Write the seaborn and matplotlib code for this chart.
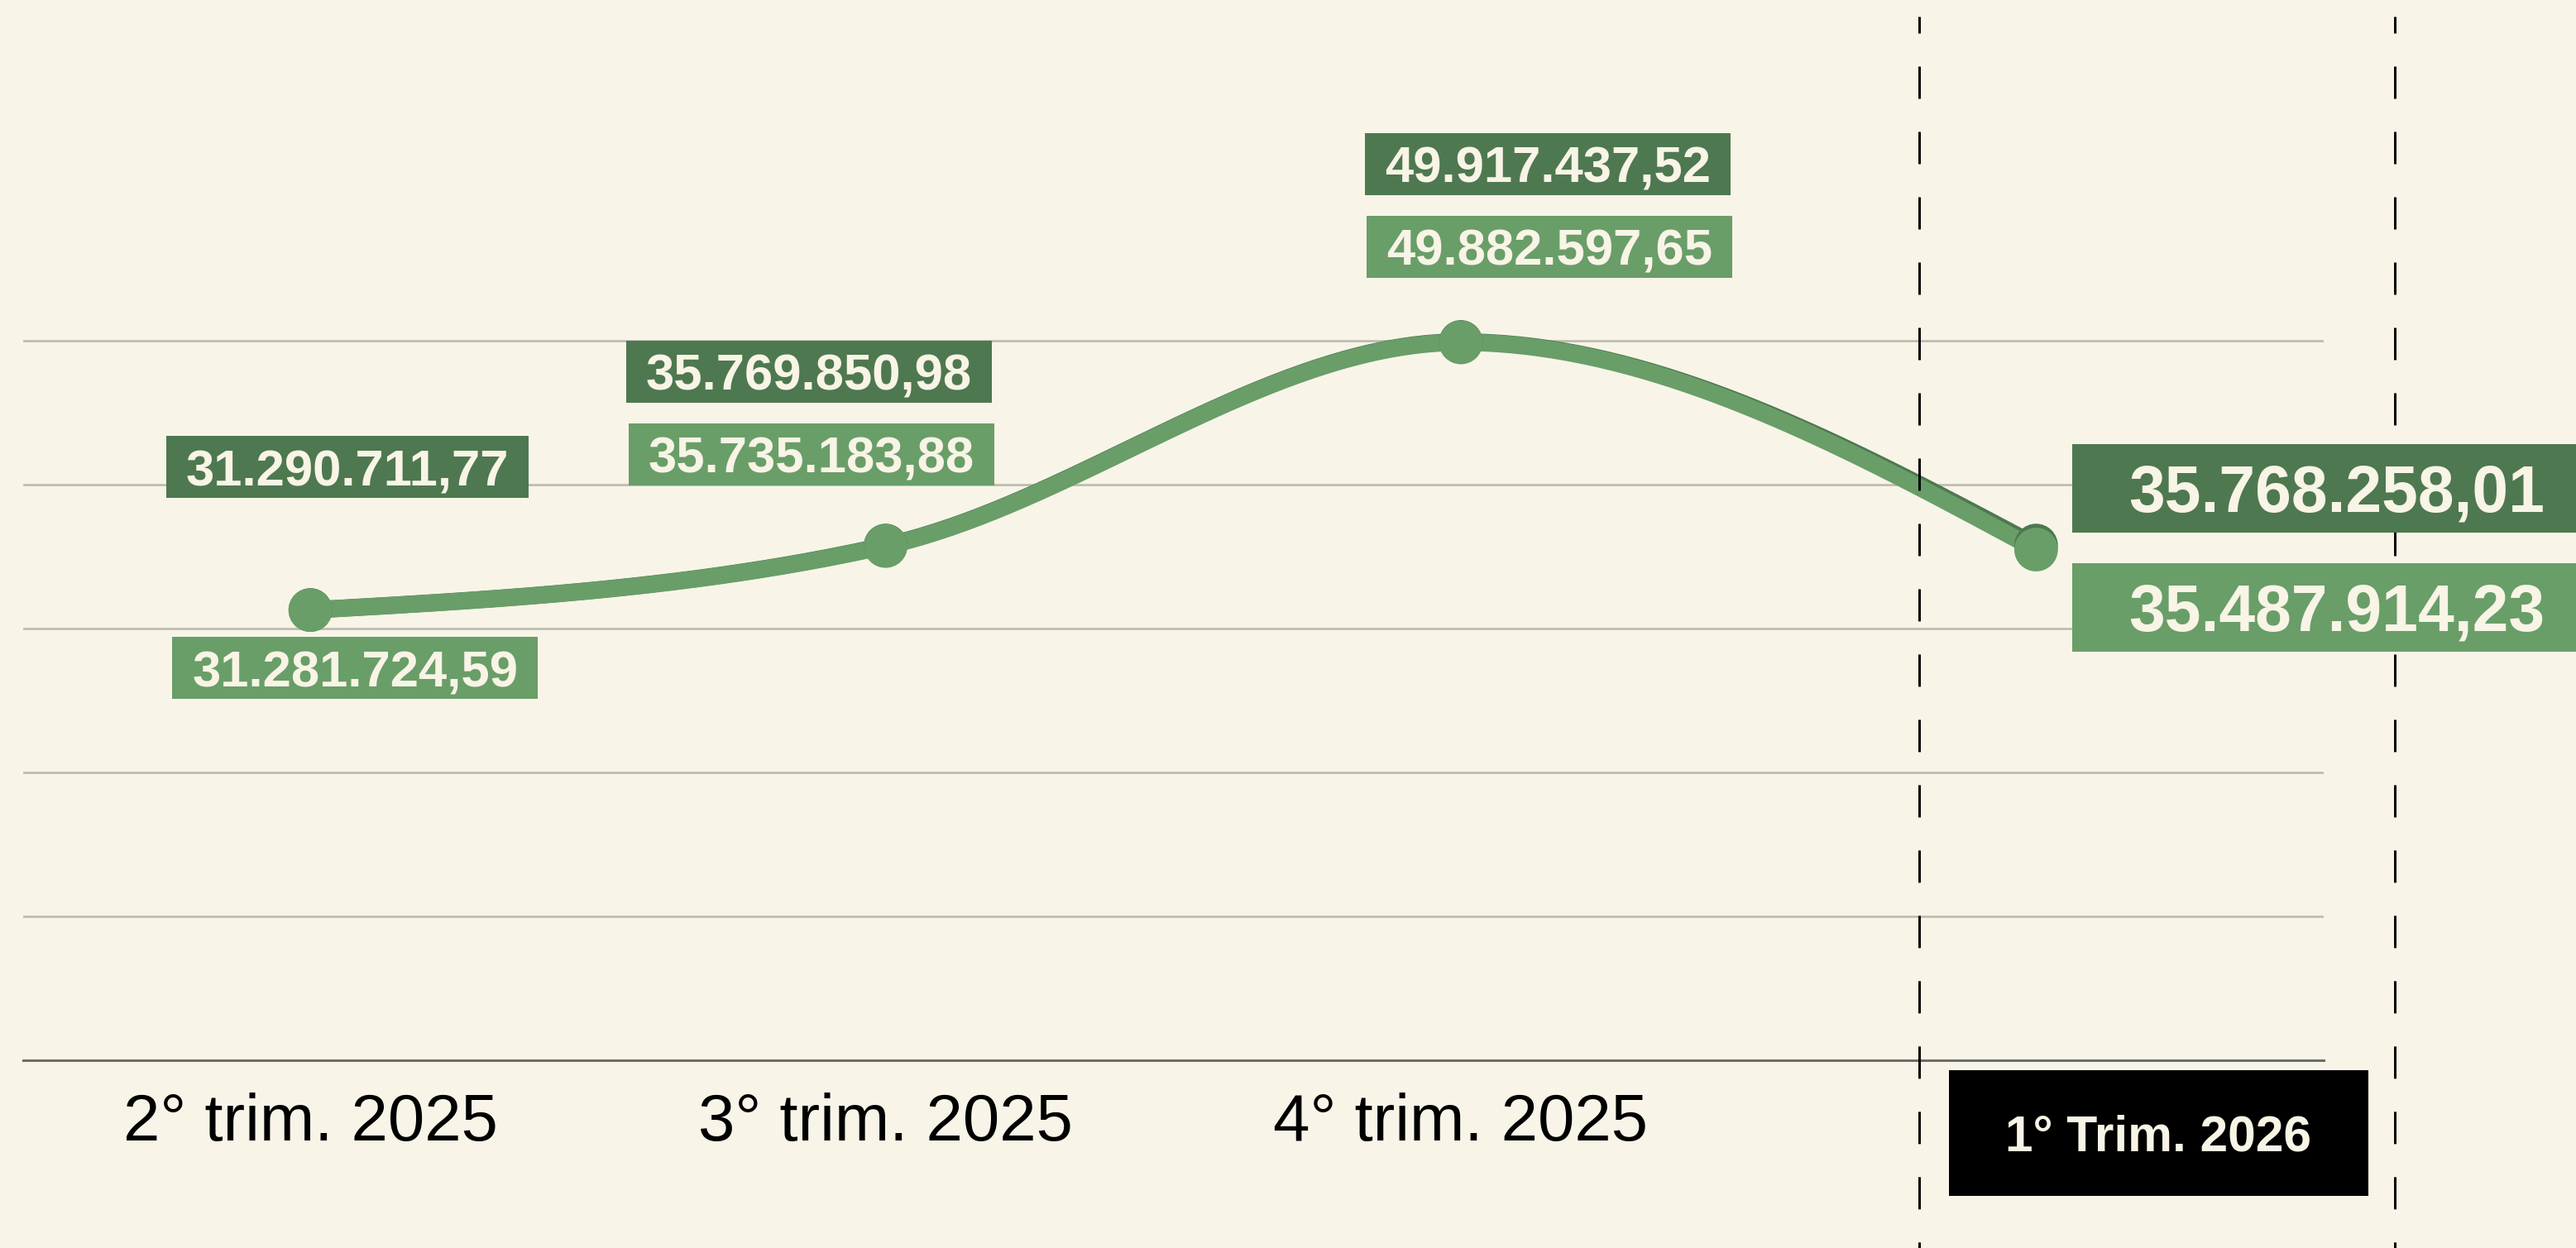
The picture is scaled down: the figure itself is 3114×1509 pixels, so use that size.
import numpy as np
import pandas as pd
import matplotlib
matplotlib.use("Agg")
import matplotlib.pyplot as plt
import matplotlib.transforms as mtransforms
from matplotlib.patches import Rectangle
from matplotlib.lines import Line2D
import seaborn as sns

# ---- data -----------------------------------------------------------------
quarters = ["2° trim. 2025", "3° trim. 2025", "4° trim. 2025", "1° Trim. 2026"]
series_dark = [31290711.77, 35769850.98, 49917437.52, 35768258.01]
series_light = [31281724.59, 35735183.88, 49882597.65, 35487914.23]
grid_values = [10e6, 20e6, 30e6, 40e6, 50e6]

# ---- style ----------------------------------------------------------------
BG = "#f8f5e8"
DARK = "#4e7850"
LIGHT = "#699e68"
CREAM = "#f8f4e6"
GRID = "#bebbb0"
BASE = "#6e6e66"
DPI = 200
W_PX, H_PX = 3114, 1509

sns.set_style("white", rc={"axes.facecolor": BG, "figure.facecolor": BG})
plt.rcParams["font.family"] = ["Liberation Sans", "DejaVu Sans"]


def br_number(v):
    s = f"{v:,.2f}"
    return s.replace(",", "X").replace(".", ",").replace("X", ".")


def monotone_curve(values, n=80):
    """Monotone cubic (Steffen) curve through equally spaced points."""
    y = np.asarray(values, dtype=float)
    x = np.arange(len(y), dtype=float)
    h = np.diff(x)
    s = np.diff(y) / h
    t = np.zeros(len(y))
    for i in range(1, len(y) - 1):
        p = (s[i - 1] * h[i] + s[i] * h[i - 1]) / (h[i - 1] + h[i])
        t[i] = (np.sign(s[i - 1]) + np.sign(s[i])) * min(abs(s[i - 1]), abs(s[i]), 0.5 * abs(p))
    t[0] = (3 * s[0] - t[1]) / 2
    t[-1] = (3 * s[-1] - t[-2]) / 2
    xs, ys = [], []
    u = np.linspace(0, 1, n)
    for i in range(len(y) - 1):
        dx = h[i] / 3
        p0 = np.array([x[i], y[i]])
        p1 = np.array([x[i] + dx, y[i] + dx * t[i]])
        p2 = np.array([x[i + 1] - dx, y[i + 1] - dx * t[i + 1]])
        p3 = np.array([x[i + 1], y[i + 1]])
        b = ((1 - u) ** 3)[:, None] * p0 + (3 * (1 - u) ** 2 * u)[:, None] * p1 \
            + (3 * (1 - u) * u ** 2)[:, None] * p2 + (u ** 3)[:, None] * p3
        xs.append(b[:, 0]); ys.append(b[:, 1])
    return pd.DataFrame({"x": np.concatenate(xs), "y": np.concatenate(ys)})


fig = plt.figure(figsize=(W_PX / DPI, H_PX / DPI), dpi=DPI)
fig.patch.set_facecolor(BG)
ax = fig.add_axes([27.5 / W_PX, (H_PX - 1282) / H_PX, (2809 - 27.5) / W_PX, 1282 / H_PX])
ax.set_facecolor(BG)

# ---- lines and points -------------------------------------------------------
pos = np.arange(len(quarters))
for vals, col in [(series_dark, DARK), (series_light, LIGHT)]:
    curve = monotone_curve(vals)
    sns.lineplot(data=curve, x="x", y="y", sort=False, color=col, linewidth=7.5,
                 solid_capstyle="round", ax=ax, zorder=2)
    sns.scatterplot(x=pos, y=vals, color=col, s=19 ** 2, edgecolor="none", ax=ax, zorder=3)

ax.set_xlim(-0.5, 3.5)
ax.set_ylim(0, 1282 / 17.4 * 1e6)
ax.set_yticks(grid_values)
ax.set_yticklabels([])
ax.yaxis.grid(True, color=GRID, linewidth=0.97)
ax.xaxis.grid(False)
ax.set_xticks(pos[:3])
ax.set_xticklabels(quarters[:3], fontsize=28.7, color="black")
ax.tick_params(axis="x", length=0, pad=14)
ax.tick_params(axis="y", length=0)
ax.set_xlabel("")
ax.set_ylabel("")
for side in ["top", "left", "right"]:
    ax.spines[side].set_visible(False)
ax.spines["bottom"].set_color(BASE)
ax.spines["bottom"].set_linewidth(1.08)

# ---- dashed markers of the latest quarter -----------------------------------
band = mtransforms.blended_transform_factory(ax.transData, fig.transFigure)
for xv in [2.797, 3.623]:
    fig.add_artist(Line2D([xv, xv], [1 - 20 / H_PX, 0], transform=band, color="black",
                          linewidth=1.08, linestyle=(6.33, (13, 13.33)), zorder=4))

# ---- value labels -----------------------------------------------------------
ident = mtransforms.IdentityTransform()
renderer = fig.canvas.get_renderer()


def boxed_text(cx, cy, text, face, size, box_h, pad_x):
    em = size * DPI / 72
    t = fig.text(cx, cy - 0.358 * em, text, transform=ident, ha="center", va="baseline",
                 fontsize=size, fontweight="bold", color=CREAM, zorder=6)
    w = t.get_window_extent(renderer).width
    fig.add_artist(Rectangle((cx - w / 2 - pad_x, cy - box_h / 2), w + 2 * pad_x, box_h,
                             transform=ident, facecolor=face, edgecolor="none", zorder=5))


# label offsets (pixels) from each point
dark_offsets = [(45, 172.6), (-93, 210.6), (105, 215.4), (363, 69.6)]
light_offsets = [(54, -70.3), (-90, 111.2), (107, 116.0), (363, -69.5)]

for vals, offs, col in [(series_dark, dark_offsets, DARK), (series_light, light_offsets, LIGHT)]:
    for i, (v, (dx, dy)) in enumerate(zip(vals, offs)):
        px, py = ax.transData.transform((i, v))
        if i == len(vals) - 1:
            boxed_text(px + dx, py + dy, br_number(v), col, 28.3, 107, 68)
        else:
            boxed_text(px + dx, py + dy, br_number(v), col, 22.2, 75, 24)

# highlighted label of the latest quarter
hx = ax.transData.transform((3.213, 0))[0]
hy = H_PX - 1370
fig.add_artist(Rectangle((hx - 253.5, hy - 76), 507, 152, transform=ident,
                         facecolor="black", edgecolor="none", zorder=5))
fig.text(hx, hy - 0.358 * 21.8 * DPI / 72, quarters[3], transform=ident, ha="center",
         va="baseline", fontsize=21.8, fontweight="bold", color=CREAM, zorder=6)

fig.savefig("out.png", dpi=DPI, facecolor=BG)
